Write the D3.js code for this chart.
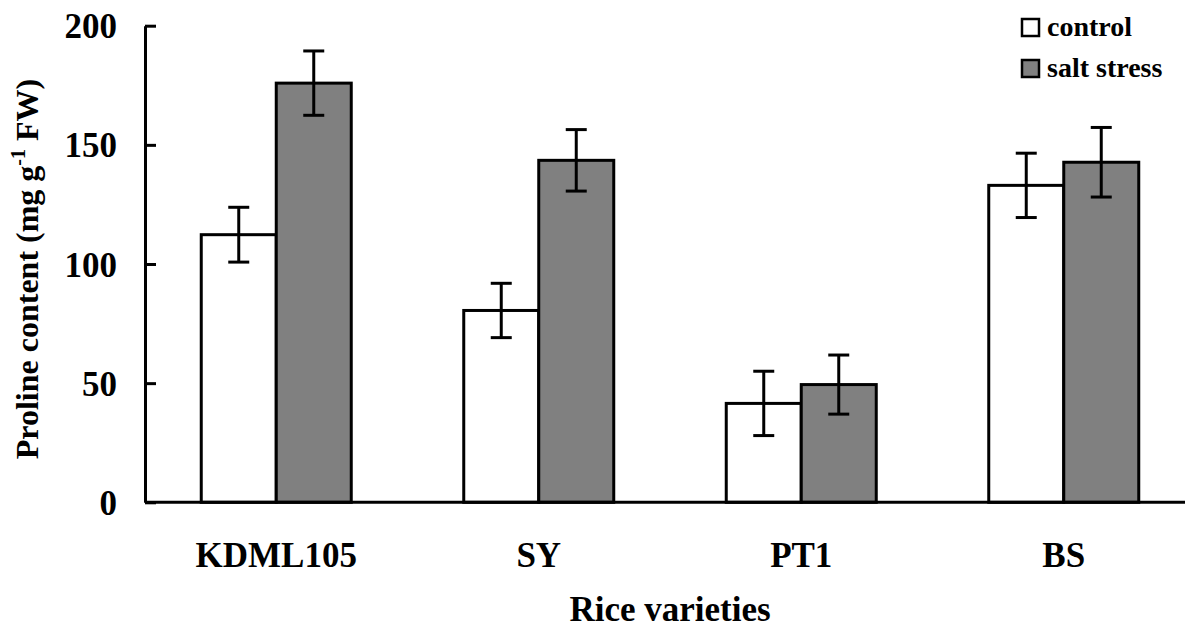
<!DOCTYPE html>
<html>
<head>
<meta charset="utf-8">
<script src="https://cdn.jsdelivr.net/npm/d3@7"></script>
<style>
  body { margin: 0; background: #fff; }
  text { font-family: "Liberation Serif", "Times New Roman", serif; font-weight: bold; fill: #000; }
</style>
</head>
<body>
<svg id="chart" width="1185" height="629"></svg>
<script>
// data
var varieties = ["KDML105", "SY", "PT1", "BS"];
var series = ["control", "salt stress"];
var controlVals = [112.3, 80.5, 41.5, 133.0];
var saltVals = [175.9, 143.5, 49.4, 142.7];
var controlErr = [11.5, 11.4, 13.5, 13.5];
var saltErr = [13.5, 12.9, 12.4, 14.6];
var yTicks = [0, 50, 100, 150, 200];
var fills = ["#ffffff", "#808080"];

var svg = d3.select("#chart");
var width = +svg.attr("width");

var plotLeft = 145, plotBottom = 502.3, plotTop = 25.7;
var barW = 75;

var x0 = d3.scaleBand().domain(varieties).range([plotLeft, plotLeft + 4 * 262.5]).paddingInner(0);
var bw = x0.bandwidth();
var x1 = d3.scaleBand().domain(series).range([bw / 2 - barW, bw / 2 + barW]);
var y = d3.scaleLinear().domain([0, 200]).range([plotBottom, plotTop]);

// rows for the bars
var rows = [];
varieties.forEach(function(v, i){
    rows.push({v: v, s: series[0], val: controlVals[i], err: controlErr[i], fill: fills[0]});
    rows.push({v: v, s: series[1], val: saltVals[i], err: saltErr[i], fill: fills[1]});
});

svg.selectAll("rect.bar")
    .data(rows)
    .enter()
    .append("rect")
    .attr("class", "bar")
    .attr("x", function(d){ return x0(d.v) + x1(d.s); })
    .attr("y", function(d){ return y(d.val); })
    .attr("width", x1.bandwidth())
    .attr("height", function(d){ return y(0) - y(d.val); })
    .attr("fill", function(d){ return d.fill; })
    .attr("stroke", "#000")
    .attr("stroke-width", 3);

// error bars
var capW = 21;
var eb = svg.selectAll("g.err")
    .data(rows)
    .enter()
    .append("g")
    .attr("class", "err")
    .attr("transform", function(d){ return "translate(" + (x0(d.v) + x1(d.s) + x1.bandwidth() / 2) + ",0)"; })
    .attr("stroke", "#000")
    .attr("stroke-width", 3);
eb.append("line")
    .attr("y1", function(d){ return y(d.val + d.err); })
    .attr("y2", function(d){ return y(d.val - d.err); });
eb.append("line")
    .attr("x1", -capW / 2).attr("x2", capW / 2)
    .attr("y1", function(d){ return y(d.val + d.err); })
    .attr("y2", function(d){ return y(d.val + d.err); });
eb.append("line")
    .attr("x1", -capW / 2).attr("x2", capW / 2)
    .attr("y1", function(d){ return y(d.val - d.err); })
    .attr("y2", function(d){ return y(d.val - d.err); });

// y axis, ticks pointing inward
var yAxis = svg.append("g")
    .attr("transform", "translate(" + plotLeft + ",0)")
    .call(d3.axisLeft(y).tickValues(yTicks).tickSizeInner(-11).tickSizeOuter(0).tickPadding(28));
yAxis.select(".domain").attr("stroke-width", 3);
yAxis.selectAll(".tick line").attr("stroke-width", 3);
yAxis.selectAll(".tick text")
    .attr("font-size", 35)
    .attr("font-family", null)
    .attr("dy", 12);

// x axis, just the line and category names
var xAxis = svg.append("g")
    .attr("transform", "translate(0," + plotBottom + ")")
    .call(d3.axisBottom(x0).tickSize(0).tickSizeOuter(0));
xAxis.select(".domain").attr("d", "M" + plotLeft + ",0H" + width).attr("stroke-width", 3);
xAxis.selectAll(".tick text")
    .attr("font-size", 35)
    .attr("font-family", null)
    .attr("y", 65)
    .attr("dy", 0);

// axis titles
svg.append("text")
    .attr("x", d3.mean(x0.range()))
    .attr("y", 621)
    .attr("text-anchor", "middle")
    .attr("font-size", 35)
    .text("Rice varieties");

var yt = svg.append("text")
    .attr("transform", "translate(38,269) rotate(-90)")
    .attr("text-anchor", "middle")
    .attr("font-size", 32);
yt.append("tspan").text("Proline content (mg g");
yt.append("tspan").attr("font-size", 20).attr("dy", -13).text("-1");
yt.append("tspan").attr("dy", 13).text(" FW)");

// legend
var lg = svg.selectAll("g.legend")
    .data(series)
    .enter()
    .append("g")
    .attr("class", "legend")
    .attr("transform", function(d, i){ return "translate(1022," + (19 + i * 41) + ")"; });
lg.append("rect")
    .attr("width", 17).attr("height", 17)
    .attr("fill", function(d, i){ return fills[i]; })
    .attr("stroke", "#000")
    .attr("stroke-width", 2.5);
lg.append("text")
    .attr("x", 25)
    .attr("y", 17)
    .attr("font-size", 28)
    .text(function(d){ return d; });
</script>
</body>
</html>
